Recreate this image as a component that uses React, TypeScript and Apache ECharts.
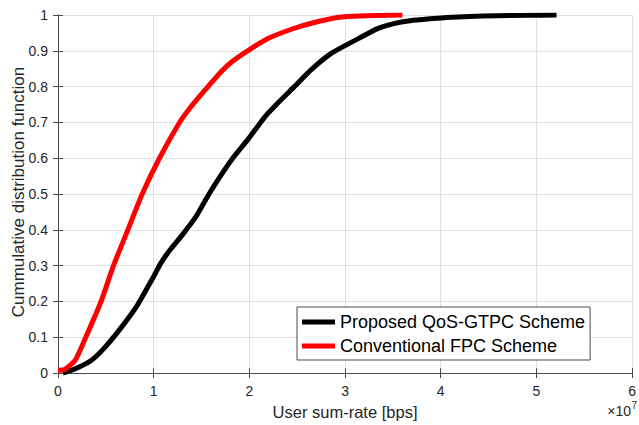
import React, { useEffect, useRef } from "react";
import * as echarts from "echarts";

// User sum-rate in units of 10^7 bps, and CDF values
const proposedRate = [0.05, 0.18, 0.35, 0.49, 0.66, 0.83, 1.0, 1.07, 1.16, 1.30, 1.44, 1.56, 1.68, 1.82, 1.99, 2.16, 2.30, 2.47, 2.65, 2.84, 2.99, 3.16, 3.34, 3.51, 3.68, 3.92, 4.06, 4.30, 4.58, 4.90, 5.21];
const proposedCdf = [0.0, 0.012, 0.036, 0.072, 0.127, 0.19, 0.27, 0.305, 0.34, 0.386, 0.436, 0.492, 0.543, 0.598, 0.654, 0.715, 0.755, 0.80, 0.848, 0.89, 0.913, 0.937, 0.962, 0.976, 0.984, 0.99, 0.993, 0.996, 0.998, 0.999, 1.0];

const conventionalRate = [0.0, 0.07, 0.18, 0.29, 0.45, 0.58, 0.73, 0.88, 1.06, 1.27, 1.37, 1.52, 1.70, 1.82, 2.01, 2.20, 2.47, 2.65, 2.92, 3.20, 3.60];
const conventionalCdf = [0.008, 0.01, 0.036, 0.10, 0.20, 0.30, 0.40, 0.50, 0.60, 0.70, 0.737, 0.785, 0.84, 0.87, 0.905, 0.935, 0.963, 0.977, 0.993, 0.998, 1.0];

const seriesNames = ["Proposed QoS-GTPC Scheme", "Conventional FPC Scheme"];
const xTicks = [0, 1, 2, 3, 4, 5, 6];
const yTicks = [0, 0.1, 0.2, 0.3, 0.4, 0.5, 0.6, 0.7, 0.8, 0.9, 1];

const FONT = "'Liberation Sans', Arial, Helvetica, sans-serif";
const AXIS = "#4a4a4a";
const GRID = "#e0e0e0";

export default function App() {
  const ref = useRef<HTMLDivElement>(null);
  useEffect(() => {
    if (!ref.current) return;
    const chart = echarts.init(ref.current, null, { renderer: "svg" });
    const common = {
      type: "value" as const,
      axisLine: { show: true, lineStyle: { color: AXIS, width: 1 } },
      axisTick: { show: true, inside: true, length: 5, lineStyle: { color: AXIS } },
    };
    chart.setOption({
      animation: false,
      backgroundColor: "#ffffff",
      grid: { left: 58, right: 2, top: 15, bottom: 49, containLabel: false },
      xAxis: [
        {
          ...common,
          position: "bottom",
          min: xTicks[0],
          max: xTicks[xTicks.length - 1],
          interval: 1,
          axisLabel: { fontSize: 14, color: "#262626", fontFamily: FONT, margin: 11 },
          splitLine: { show: true, lineStyle: { color: GRID, width: 1 } },
          name: "User sum-rate [bps]",
          nameLocation: "middle",
          nameGap: 28,
          nameTextStyle: { fontSize: 16.5, color: "#262626", fontFamily: FONT },
        },
        {
          ...common,
          position: "top",
          min: xTicks[0],
          max: xTicks[xTicks.length - 1],
          interval: 1,
          axisLabel: { show: false },
          splitLine: { show: false },
        },
      ],
      yAxis: [
        {
          ...common,
          position: "left",
          min: yTicks[0],
          max: yTicks[yTicks.length - 1],
          interval: 0.1,
          axisLabel: { fontSize: 14, color: "#262626", fontFamily: FONT, margin: 10 },
          splitLine: { show: true, lineStyle: { color: GRID, width: 1 } },
        },
        {
          ...common,
          position: "right",
          min: yTicks[0],
          max: yTicks[yTicks.length - 1],
          interval: 0.1,
          axisLabel: { show: false },
          splitLine: { show: false },
        },
      ],
      legend: {
        data: seriesNames,
        orient: "vertical",
        left: 297,
        top: 307,
        icon: "rect",
        itemWidth: 33,
        itemHeight: 5,
        itemGap: 6,
        padding: [6, 5, 5, 5],
        backgroundColor: "#ffffff",
        borderColor: AXIS,
        borderWidth: 1,
        borderRadius: 0,
        textStyle: { fontSize: 18, color: "#000000", fontFamily: FONT },
      },
      graphic: [
        {
          type: "text",
          x: 18,
          y: 192,
          rotation: Math.PI / 2,
          style: {
            text: "Cummulative distribution function",
            fontSize: 17,
            fontFamily: FONT,
            fill: "#262626",
            align: "center",
            verticalAlign: "middle",
          },
        },
        {
          type: "text",
          x: 631,
          y: 411,
          style: { text: "×10", fontSize: 14, fontFamily: FONT, fill: "#262626", align: "right", verticalAlign: "middle" },
        },
        {
          type: "text",
          x: 631.5,
          y: 405,
          style: { text: "7", fontSize: 10, fontFamily: FONT, fill: "#262626", align: "left", verticalAlign: "middle" },
        },
      ],
      series: [
        {
          name: seriesNames[0],
          type: "line",
          showSymbol: false,
          symbol: "none",
          smooth: 0.2,
          color: "#000000",
          lineStyle: { width: 5, color: "#000000" },
          data: proposedRate.map((x, i) => [x, proposedCdf[i]]),
        },
        {
          name: seriesNames[1],
          type: "line",
          showSymbol: false,
          symbol: "none",
          smooth: 0.2,
          color: "#ff0000",
          lineStyle: { width: 5, color: "#ff0000" },
          data: conventionalRate.map((x, i) => [x, conventionalCdf[i]]),
        },
      ],
    });
    return () => chart.dispose();
  }, []);
  return <div ref={ref} style={{ position: "fixed", left: 0, top: 0, width: 639, height: 425 }} />;
}
